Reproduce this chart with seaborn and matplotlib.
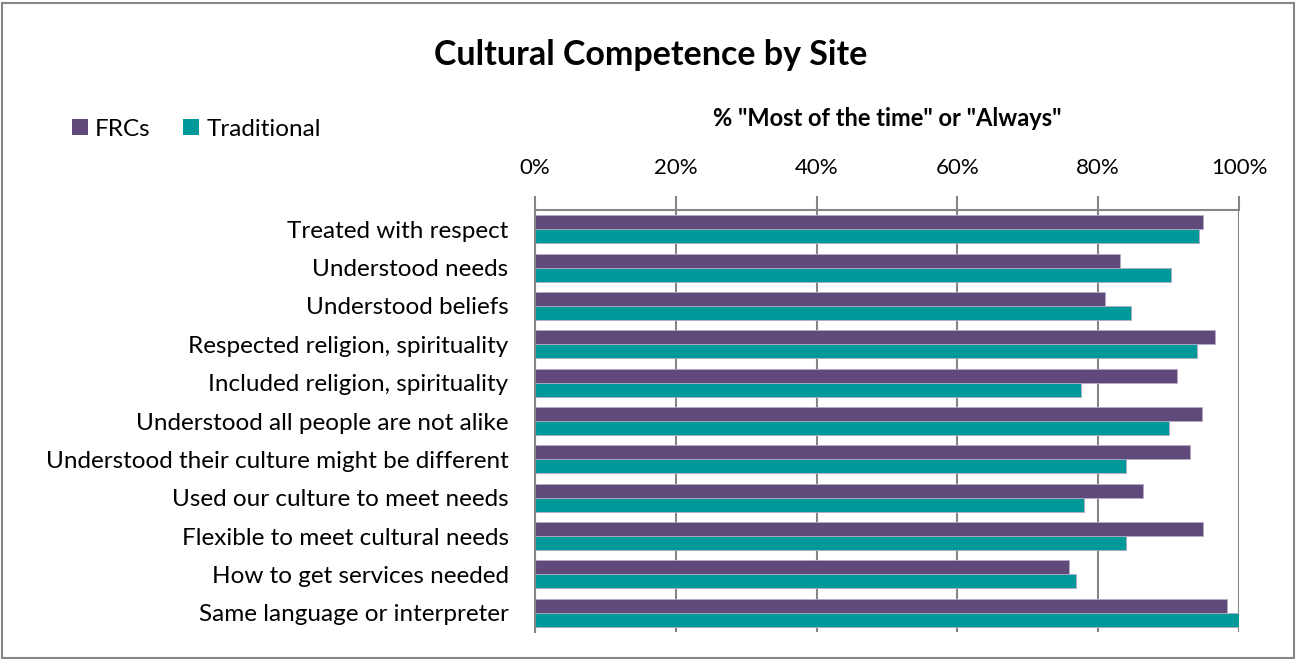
import matplotlib
matplotlib.use("Agg")
import matplotlib.pyplot as plt
import seaborn as sns
import pandas as pd
from matplotlib.patches import Rectangle, Patch
from matplotlib.ticker import PercentFormatter, FixedLocator

categories = [
    "Treated with respect",
    "Understood needs",
    "Understood beliefs",
    "Respected religion, spirituality",
    "Included religion, spirituality",
    "Understood all people are not alike",
    "Understood their culture might be different",
    "Used our culture to meet needs",
    "Flexible to meet cultural needs",
    "How to get services needed",
    "Same language or interpreter",
]
frcs = [94.9, 83.1, 81.0, 96.6, 91.2, 94.8, 93.1, 86.4, 94.9, 75.9, 98.3]
traditional = [94.3, 90.4, 84.6, 94.1, 77.5, 90.0, 84.0, 78.0, 84.0, 76.9, 100.0]
series_names = ["FRCs", "Traditional"]
x_ticks = [0, 20, 40, 60, 80, 100]

title = "Cultural Competence by Site"
x_label = '% "Most of the time" or "Always"'

colors = {"FRCs": "#604A7B", "Traditional": "#009999"}

df = pd.DataFrame({
    "category": categories * 2,
    "value": frcs + traditional,
    "series": [series_names[0]] * len(categories) + [series_names[1]] * len(categories),
})

sns.set_theme(style="white")
plt.rcParams["font.family"] = ["Lato", "DejaVu Sans"]
plt.rcParams["text.color"] = "black"
plt.rcParams["axes.labelcolor"] = "black"

fig = plt.figure(figsize=(12.96, 6.6), dpi=100)
ax = fig.add_axes([535 / 1296, 1 - 632 / 660, (1239 - 535) / 1296, (632 - 210) / 660])

sns.barplot(data=df, y="category", x="value", hue="series", hue_order=series_names,
            order=categories, palette=colors, orient="h", width=0.73, saturation=1,
            edgecolor="#B5A9C4", linewidth=0.6, ax=ax, legend=False, errorbar=None)

ax.set_xlim(0, 100)
ax.set_ylim(len(categories) - 0.5, -0.5)
ax.xaxis.tick_top()
ax.xaxis.set_label_position("top")
ax.set_xticks(x_ticks)
ax.xaxis.set_major_formatter(PercentFormatter(decimals=0))
ax.tick_params(axis="x", which="major", direction="out", length=10, width=1.5,
               color="#868686", labelsize=16, pad=13, labelcolor="black")
ax.set_xlabel(x_label, fontsize=17, fontweight="bold", labelpad=23)
ax.set_ylabel("")
ax.tick_params(axis="y", which="major", length=0, labelsize=17.5, pad=19, labelcolor="black")
ax.yaxis.set_minor_locator(FixedLocator([i - 0.5 for i in range(len(categories) + 1)]))
ax.tick_params(axis="y", which="minor", direction="out", length=5, width=1.5, color="#868686")

ax.grid(axis="x", color="#868686", linewidth=1.5)
ax.set_axisbelow(True)
for side in ["top", "left"]:
    ax.spines[side].set_visible(True)
    ax.spines[side].set_color("#868686")
    ax.spines[side].set_linewidth(1.5)
ax.spines["right"].set_visible(False)
ax.spines["bottom"].set_visible(False)

fig.text(651 / 1296, 1 - 55 / 660, title, ha="center", va="center",
         fontsize=24.5, fontweight="bold", color="black")

handles = [Patch(facecolor=colors[s], edgecolor="none") for s in series_names]
fig.legend(handles, series_names, loc="center left", bbox_to_anchor=(50 / 1296, 1 - 129 / 660),
           ncol=2, frameon=False, fontsize=17.5, handlelength=0.65, handleheight=0.65,
           handletextpad=0.3, columnspacing=1.35)

fig.patches.append(Rectangle((2 / 1296, 2 / 660), 1292 / 1296, 655 / 660,
                             transform=fig.transFigure, fill=False,
                             edgecolor="#868686", linewidth=1.5))

fig.savefig("out.png", dpi=100)
